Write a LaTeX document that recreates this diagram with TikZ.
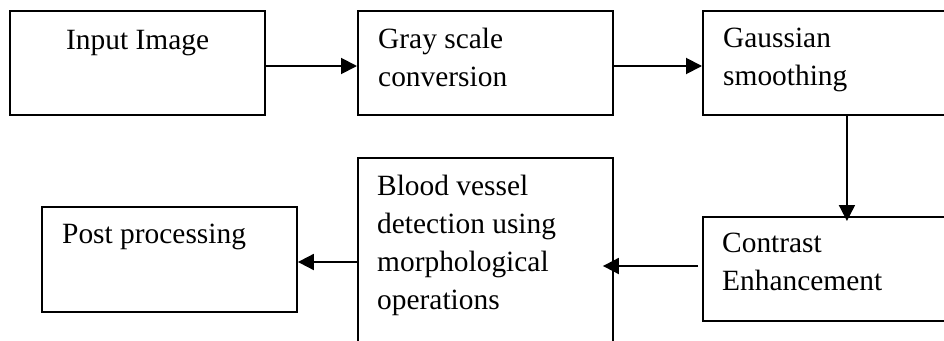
\documentclass[tikz,border=0pt]{standalone}
\usepackage{fontspec}
\setmainfont{Liberation Serif}
\usetikzlibrary{arrows.meta}
\tikzset{
  box/.style={draw=black, line width=1.9pt, fill=none, inner sep=0pt, anchor=north west},
  lbl/.style={anchor=base west, inner sep=0pt, align=left, font=\fontsize{29.4}{38}\selectfont},
  arr/.style={line width=1.9pt, -{Triangle[length=16pt,width=16pt]}}
}
\begin{document}
\begin{tikzpicture}[x=1pt,y=-1pt]
\useasboundingbox (0,0) rectangle (944,340);
\clip (0,0) rectangle (944,340);
% boxes
\node[box, minimum width=255pt, minimum height=104pt] (input) at (9,10) {};
\node[box, minimum width=255pt, minimum height=104pt] (gray) at (357,10) {};
\node[box, minimum width=288pt, minimum height=104pt] (gauss) at (702,10) {};
\node[box, minimum width=288pt, minimum height=104pt] (contrast) at (702,216) {};
\node[box, minimum width=255pt, minimum height=240pt] (blood) at (357,157) {};
\node[box, minimum width=255pt, minimum height=105pt] (post) at (41,206) {};
% texts (base anchor = baseline of the last line)
\node[lbl] (t1) at (66,49) {Input Image};
\node[lbl] (t2) at (378,86) {Gray scale\\conversion};
\node[lbl] (t3) at (723,85) {Gaussian\\smoothing};
\node[lbl] (t4) at (722,290) {Contrast\\Enhancement};
\node[lbl] (t5) at (377,309) {Blood vessel\\detection using\\morphological\\operations};
\node[lbl] (t6) at (62,243) {Post processing};
% connectors
\coordinate (ya) at (0,66);
\coordinate (y4) at (0,266);
\coordinate (y5) at (0,262);
\draw[arr] (input.east |- ya) -- (gray.west |- ya);
\draw[arr] (gray.east |- ya) -- (gauss.west |- ya);
\draw[arr, shorten >=-5pt] (gauss.south) -- (contrast.north);
\draw[arr, shorten <=4pt, shorten >=-11pt] (contrast.west |- y4) -- (blood.east |- y4);
\draw[arr] (blood.west |- y5) -- (post.east |- y5);
\end{tikzpicture}
\end{document}
